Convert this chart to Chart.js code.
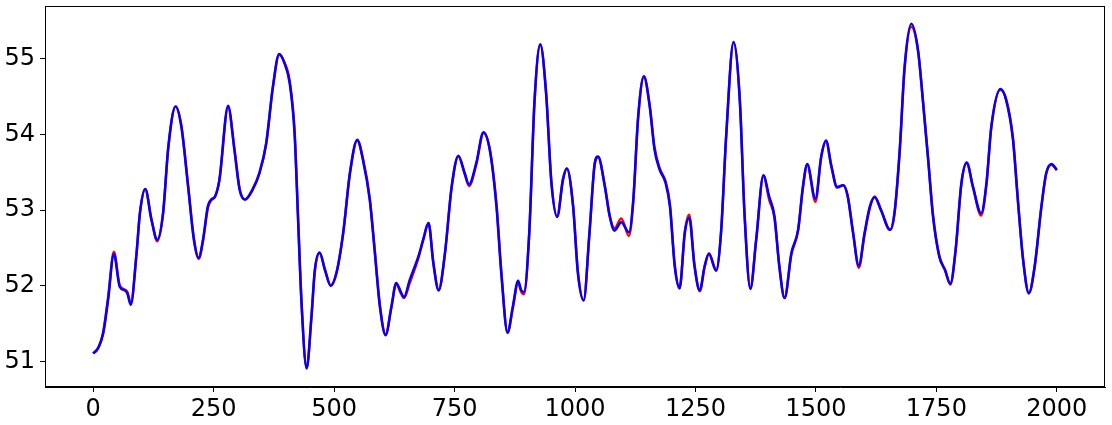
<!DOCTYPE html>
<html>
<head>
<meta charset="utf-8">
<script src="https://cdn.jsdelivr.net/npm/chart.js@4"></script>
<style>
  html, body { margin: 0; padding: 0; background: #fff; }
  #wrap { width: 1112px; height: 425px; }
</style>
</head>
<body>
<div id="wrap"><canvas id="lineChart" width="1112" height="425"></canvas></div>
<script>
// values
var xValues = [0, 10, 21, 31, 43, 55, 66, 71, 78, 90, 97, 108, 121, 133, 145, 156, 171, 183, 197, 209,
  219, 228, 238, 245, 253, 262, 280, 293, 304, 315, 331, 345, 359, 373, 386, 397, 408, 418, 425, 432,
  443, 453, 460, 470, 481, 493, 505, 519, 533, 548, 560, 574, 584, 595, 607, 619, 629, 638, 645, 657,
  675, 685, 696, 706, 717, 730, 744, 758, 771, 780, 795, 810, 823, 837, 847, 860, 871, 882, 888, 894,
  905, 916, 928, 940, 951, 963, 975, 983, 996, 1006, 1018, 1030, 1041, 1048, 1062, 1072, 1082, 1096, 1112, 1121,
  1131, 1143, 1155, 1165, 1176, 1188, 1197, 1207, 1217, 1228, 1237, 1248, 1259, 1269, 1278, 1293, 1303, 1314, 1329, 1342,
  1352, 1364, 1376, 1391, 1403, 1414, 1424, 1435, 1449, 1463, 1473, 1482, 1499, 1511, 1521, 1532, 1544, 1557, 1566, 1577,
  1589, 1601, 1612, 1622, 1635, 1654, 1663, 1674, 1684, 1698, 1712, 1722, 1733, 1743, 1756, 1768, 1779, 1790, 1802, 1813,
  1826, 1843, 1854, 1864, 1883, 1895, 1909, 1919, 1930, 1942, 1954, 1968, 1978, 1989, 2000];

var blueValues = [51.11, 51.18, 51.38, 51.82, 52.42, 51.99, 51.94, 51.90, 51.75, 52.43, 52.96, 53.28, 52.87, 52.61, 52.96, 53.84, 54.37, 54.10, 53.31, 52.61,
  52.37, 52.61, 53.05, 53.14, 53.18, 53.40, 54.38, 53.80, 53.27, 53.14, 53.27, 53.49, 53.88, 54.63, 55.06, 54.94, 54.67, 54.01, 52.92, 51.82,
  50.91, 51.60, 52.21, 52.44, 52.21, 52.00, 52.17, 52.70, 53.49, 53.93, 53.66, 53.14, 52.48, 51.73, 51.35, 51.73, 52.04, 51.93, 51.85, 52.08,
  52.39, 52.61, 52.83, 52.30, 51.94, 52.43, 53.31, 53.72, 53.49, 53.34, 53.62, 54.03, 53.80, 53.05, 52.17, 51.38, 51.73, 52.07, 51.95, 51.92,
  52.70, 54.45, 55.19, 54.54, 53.36, 52.91, 53.40, 53.55, 53.05, 52.17, 51.81, 52.70, 53.62, 53.71, 53.31, 52.92, 52.73, 52.84, 52.71, 53.14,
  54.23, 54.76, 54.37, 53.80, 53.53, 53.36, 53.05, 52.26, 51.97, 52.70, 52.90, 52.26, 51.94, 52.26, 52.42, 52.20, 52.70, 54.01, 55.22, 54.45,
  52.92, 51.96, 52.61, 53.46, 53.18, 52.92, 52.26, 51.84, 52.43, 52.74, 53.31, 53.61, 53.15, 53.71, 53.92, 53.58, 53.30, 53.33, 53.18, 52.70,
  52.27, 52.70, 53.05, 53.17, 53.00, 52.74, 52.96, 53.80, 54.89, 55.46, 55.11, 54.45, 53.66, 52.92, 52.39, 52.21, 52.03, 52.48, 53.36, 53.63,
  53.31, 52.96, 53.36, 54.10, 54.60, 54.45, 53.93, 53.14, 52.34, 51.90, 52.26, 53.05, 53.49, 53.61, 53.53];

var redValues = [51.11, 51.17, 51.40, 51.85, 52.45, 52.01, 51.95, 51.92, 51.77, 52.43, 52.96, 53.28, 52.88, 52.59, 52.95, 53.83, 54.37, 54.12, 53.33, 52.63,
  52.36, 52.60, 53.03, 53.13, 53.18, 53.40, 54.36, 53.82, 53.28, 53.14, 53.28, 53.49, 53.87, 54.62, 55.05, 54.95, 54.70, 54.05, 52.95, 51.84,
  50.92, 51.58, 52.19, 52.43, 52.22, 52.01, 52.18, 52.71, 53.50, 53.92, 53.68, 53.16, 52.50, 51.75, 51.36, 51.72, 52.03, 51.91, 51.84, 52.04,
  52.37, 52.61, 52.83, 52.31, 51.95, 52.42, 53.30, 53.71, 53.48, 53.32, 53.60, 54.02, 53.81, 53.08, 52.20, 51.39, 51.71, 52.05, 51.93, 51.89,
  52.68, 54.43, 55.18, 54.56, 53.38, 52.92, 53.41, 53.55, 53.07, 52.19, 51.81, 52.69, 53.61, 53.70, 53.32, 52.93, 52.76, 52.89, 52.66, 53.12,
  54.21, 54.77, 54.39, 53.83, 53.55, 53.38, 53.08, 52.28, 51.97, 52.72, 52.94, 52.28, 51.93, 52.25, 52.43, 52.21, 52.69, 53.99, 55.21, 54.48,
  52.95, 51.97, 52.60, 53.45, 53.14, 52.90, 52.27, 51.84, 52.41, 52.73, 53.29, 53.60, 53.11, 53.70, 53.91, 53.59, 53.31, 53.33, 53.19, 52.72,
  52.24, 52.68, 53.03, 53.18, 53.01, 52.74, 52.95, 53.78, 54.86, 55.42, 55.10, 54.46, 53.68, 52.94, 52.40, 52.21, 52.02, 52.47, 53.35, 53.62,
  53.30, 52.93, 53.34, 54.09, 54.59, 54.46, 53.95, 53.16, 52.36, 51.91, 52.25, 53.04, 53.48, 53.60, 53.53];

var xTicks = [0, 250, 500, 750, 1000, 1250, 1500, 1750, 2000];
var yTicks = [51, 52, 53, 54, 55];

function toPoints(vals) {
  return xValues.map(function (x, i) { return { x: x, y: vals[i] }; });
}

// 枠線 (top / right spines too)
var framePlugin = {
  id: 'frame',
  afterDatasetsDraw: function (chart) {
    var a = chart.chartArea, ctx = chart.ctx;
    ctx.save();
    ctx.strokeStyle = '#000';
    ctx.lineWidth = 1;
    ctx.strokeRect(a.left + 0.5, a.top + 0.5, a.right - a.left - 1, a.bottom - a.top - 1);
    ctx.restore();
  }
};

var tickFont = { family: 'DejaVu Sans', size: 24 };
var plainLabel = function (v) { return String(v); };

var lineConfig = {
  type: 'line',
  data: {
    datasets: [{
      label: 'blue',
      data: toPoints(blueValues),
      borderColor: '#0000ff',
      borderWidth: 2.5,
      pointRadius: 0,
      cubicInterpolationMode: 'monotone'
    }, {
      label: 'red',
      data: toPoints(redValues),
      borderColor: '#ff0000',
      borderWidth: 2.5,
      pointRadius: 0,
      cubicInterpolationMode: 'monotone'
    }]
  },
  options: {
    responsive: false,
    animation: false,
    devicePixelRatio: 1,
    layout: { padding: { left: 0, top: 6, right: 7, bottom: 0 } },
    plugins: { legend: { display: false }, tooltip: { enabled: false } },
    scales: {
      x: {
        type: 'linear',
        min: -100,
        max: 2100,
        afterBuildTicks: function (s) { s.ticks = xTicks.map(function (v) { return { value: v }; }); },
        afterFit: function (s) { s.height = 38; s.paddingLeft = 0; s.paddingRight = 0; },
        grid: { drawOnChartArea: false, drawTicks: true, tickLength: 5, color: '#000' },
        border: { display: true, color: '#000' },
        ticks: { color: '#000', font: tickFont, padding: 3, maxRotation: 0, callback: plainLabel }
      },
      y: {
        min: 50.666,
        max: 55.695,
        afterBuildTicks: function (s) { s.ticks = yTicks.map(function (v) { return { value: v }; }); },
        afterFit: function (s) { s.width = 45; s.paddingTop = 0; s.paddingBottom = 0; },
        grid: { drawOnChartArea: false, drawTicks: true, tickLength: 5, color: '#000' },
        border: { display: true, color: '#000' },
        ticks: { color: '#000', font: tickFont, padding: 5, callback: plainLabel }
      }
    }
  },
  plugins: [framePlugin]
};

var lineChart = new Chart(document.getElementById('lineChart'), lineConfig);
</script>
</body>
</html>
